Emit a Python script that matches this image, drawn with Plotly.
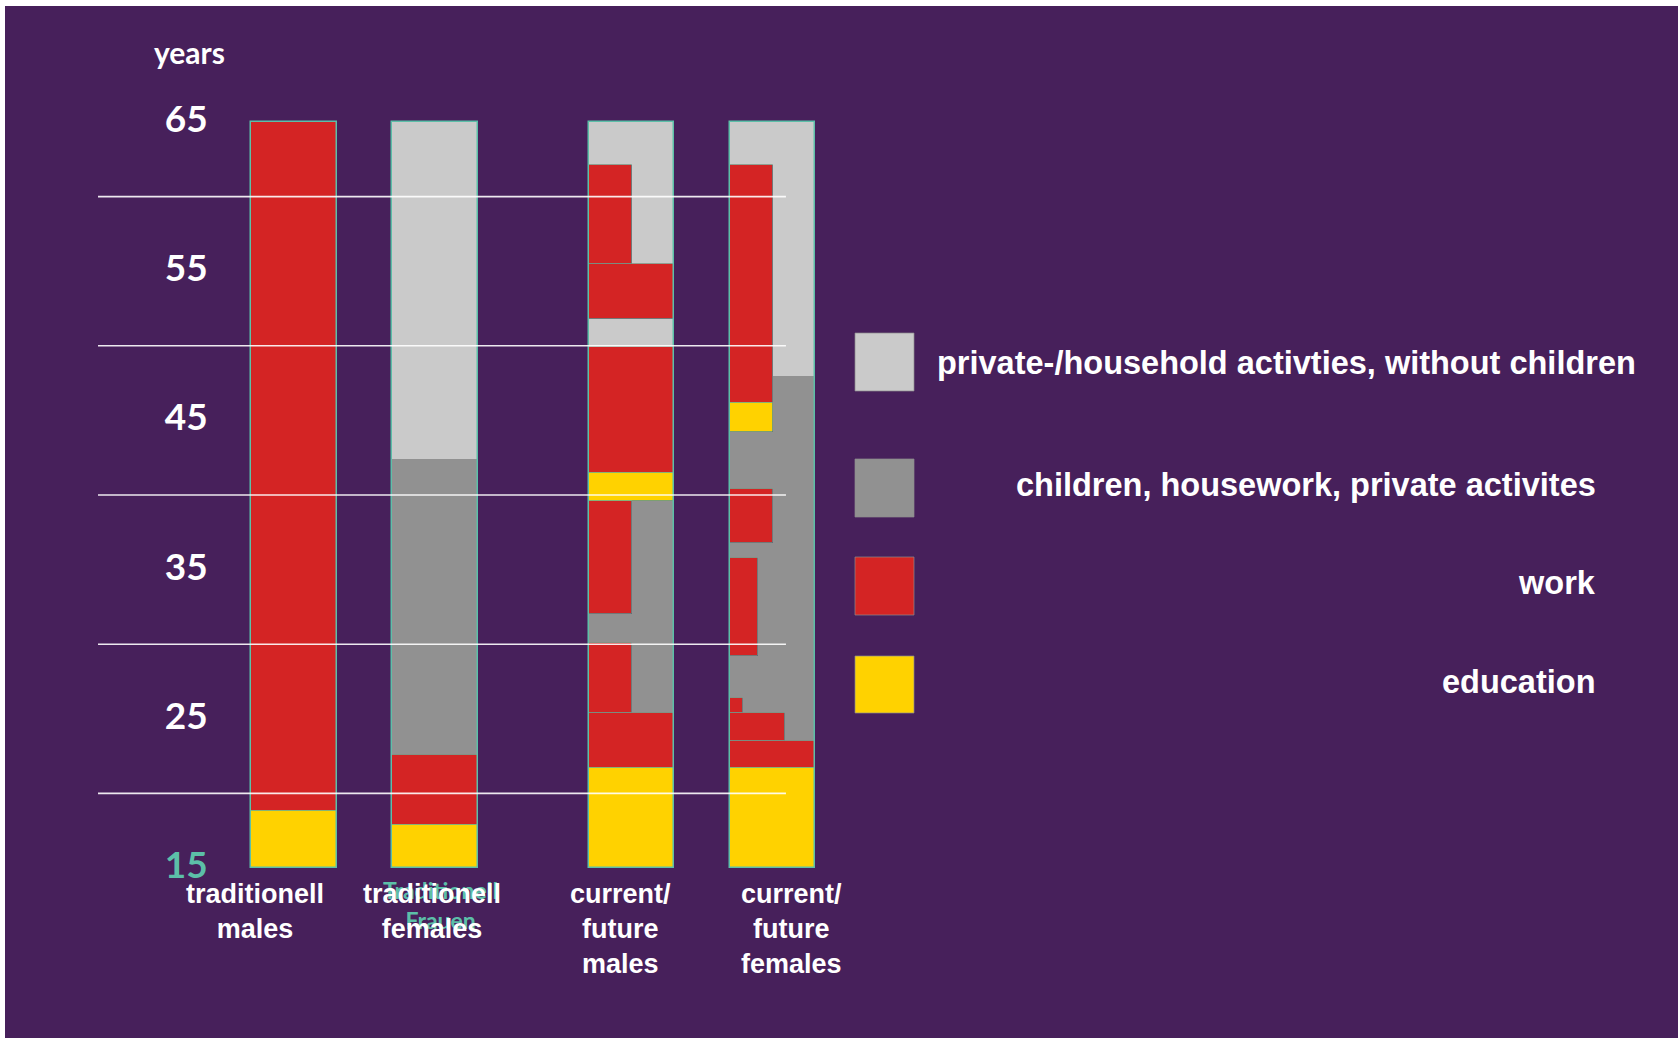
import plotly.graph_objects as go

# ---------------- data ----------------
categories = ["traditionell<br>males", "traditionell<br>females",
              "current/<br>future<br>males", "current/<br>future<br>females"]
activities = ["private-/household activties, without children",
              "children, housework, private activites", "work", "education"]

# segments: (category index, age from, age to, share-of-column from, share-of-column to)
education = [(0, 15, 18.85, 0, 1), (1, 15, 17.85, 0, 1), (2, 15, 21.7, 0, 1),
             (2, 39.6, 41.5, 0, 1), (3, 15, 21.7, 0, 1), (3, 44.2, 46.2, 0, 0.5)]
work = [(0, 18.85, 65, 0, 1), (1, 17.85, 22.6, 0, 1),
        (2, 21.7, 25.4, 0, 1), (2, 25.4, 30.1, 0, 0.5), (2, 32.0, 39.6, 0, 0.5),
        (2, 41.5, 49.9, 0, 1), (2, 51.8, 55.5, 0, 1), (2, 55.5, 62.1, 0, 0.5),
        (3, 21.7, 23.5, 0, 1), (3, 23.5, 25.4, 0, 0.65), (3, 25.4, 26.4, 0, 0.15),
        (3, 29.2, 35.8, 0, 0.33), (3, 36.8, 40.4, 0, 0.5), (3, 46.2, 62.1, 0, 0.5)]
children = [(1, 22.6, 42.4, 0, 1),
            (2, 25.4, 30.1, 0.5, 1), (2, 30.1, 32.0, 0, 1), (2, 32.0, 39.6, 0.5, 1),
            (3, 23.5, 25.4, 0.65, 1), (3, 25.4, 26.4, 0.15, 1), (3, 26.4, 29.2, 0, 1),
            (3, 29.2, 35.8, 0.33, 1), (3, 35.8, 36.8, 0, 1), (3, 36.8, 40.4, 0.5, 1),
            (3, 40.4, 44.2, 0, 1), (3, 44.2, 48.0, 0.5, 1)]
private = [(1, 42.4, 65, 0, 1), (2, 49.9, 51.8, 0, 1), (2, 55.5, 62.1, 0.5, 1),
           (2, 62.1, 65, 0, 1), (3, 48.0, 62.1, 0.5, 1), (3, 62.1, 65, 0, 1)]

age_start = 15
age_end = 65
tick_vals = [15, 25, 35, 45, 55, 65]
grid_vals = [20, 30, 40, 50, 60]
y_title = "years"
ghost_label = "Traditionell<br>Frauen"

# ---------------- styles / layout ----------------
BG = "#47205B"
TEAL = "#5CBFA8"
colors = {
    "private": "#CACACA",
    "children": "#919191",
    "work": "#D42424",
    "education": "#FFD200",
}

W, H = 1678, 1038
ML, MT = 5, 6                   # thin white frame at top / left
PX_X = 141.0                    # pixels per x unit
PX_Y = 14.92                    # pixels per year
X0_PX = 294.0                   # pixel of first category centre
Y65_PX = 122.0                  # pixel of age 65

cat_pos = [0.0, 1.0, 2.394, 3.394]
bar_w = 0.606

x_range = [(ML - X0_PX) / PX_X, (W - X0_PX) / PX_X]
y_range = [65 - (H - Y65_PX) / PX_Y, 65 + (Y65_PX - MT) / PX_Y]


def px_to_paper(px, py):
    return (px - ML) / (W - ML), 1 - (py - MT) / (H - MT)


fig = go.Figure()


def add_segments(segs, key, name):
    xs, ys, bases, widths = [], [], [], []
    for ci, a0, a1, s0, s1 in segs:
        left = cat_pos[ci] - bar_w / 2
        xs.append(left + (s0 + s1) / 2 * bar_w)
        widths.append((s1 - s0) * bar_w)
        bases.append(a0)
        ys.append(a1 - a0)
    line = dict(color="rgba(92,191,168,0.55)", width=1) if key in ("work", "education") \
        else dict(width=0)
    fig.add_trace(go.Bar(x=xs, y=ys, base=bases, width=widths, name=name,
                         marker=dict(color=colors[key], line=line),
                         showlegend=False, hoverinfo="skip"))


add_segments(children, "children", activities[1])
add_segments(private, "private", activities[0])
add_segments(work, "work", activities[2])
add_segments(education, "education", activities[3])

# outline of each full column
fig.add_trace(go.Bar(x=cat_pos, y=[age_end - age_start] * len(cat_pos),
                     base=[age_start] * len(cat_pos), width=[bar_w] * len(cat_pos),
                     marker=dict(color="rgba(0,0,0,0)", line=dict(color=TEAL, width=1.5)),
                     showlegend=False, hoverinfo="skip"))

# gridlines above the bars
for g in grid_vals:
    fig.add_shape(type="line", xref="x", yref="y",
                  x0=cat_pos[0] - 1.39, x1=cat_pos[3] + 0.095, y0=g, y1=g,
                  line=dict(color="rgba(255,255,255,0.9)", width=1.6), layer="above")

# tick labels
ticktext = []
for v in tick_vals:
    if v == 15:
        ticktext.append(f'<span style="color:{TEAL}"><b>{v}</b></span>')
    else:
        ticktext.append(f"<b>{v}</b>")

annotations = []
# y title
xp, yp = px_to_paper(189, 52)
annotations.append(dict(text=f"<b>{y_title}</b>", x=xp, y=yp, xref="paper", yref="paper",
                        xanchor="center", yanchor="middle", showarrow=False,
                        font=dict(family="Lato", size=30, color="white")))

# ghost label behind 2nd category
xp, yp = px_to_paper(440, 874)
annotations.append(dict(text=f"<b>{ghost_label}</b>", x=xp, y=yp, xref="paper", yref="paper",
                        xanchor="center", yanchor="top", showarrow=False,
                        font=dict(family="Lato", size=23, color=TEAL)))

# category labels
label_offsets = [-0.277, -0.021, -0.075, 0.131]
_, ytop = px_to_paper(0, 877)
for i, c in enumerate(categories):
    annotations.append(dict(text=f"<b>{c}</b>", x=cat_pos[i] + label_offsets[i], y=ytop,
                            xref="x", yref="paper", xanchor="center", yanchor="top",
                            showarrow=False,
                            font=dict(family="Liberation Sans, Arial", size=27, color="white")))

# custom legend
legend_keys = ["private", "children", "work", "education"]
swatch_y = [(333, 391), (459, 517), (557, 615), (656, 713)]
text_y = [363, 485, 583, 682]
for k, name, (sy0, sy1), ty, in zip(legend_keys, activities, swatch_y, text_y):
    x0, y0 = px_to_paper(855, sy1)
    x1, y1 = px_to_paper(914, sy0)
    fig.add_shape(type="rect", xref="paper", yref="paper", x0=x0, x1=x1, y0=y0, y1=y1,
                  fillcolor=colors[k], line=dict(color="rgba(140,140,140,0.7)", width=1))
    if k == "private":
        xp, yp = px_to_paper(935, ty)
        xanchor = "left"
    else:
        xp, yp = px_to_paper(1598, ty)
        xanchor = "right"
    annotations.append(dict(text=f"<b>{name}</b>", x=xp, y=yp, xref="paper", yref="paper",
                            xanchor=xanchor, yanchor="middle", showarrow=False,
                            font=dict(family="Liberation Sans, Arial", size=32.5, color="white")))

axis_pos = (218 - ML) / (W - ML)
fig.update_layout(
    width=W, height=H,
    margin=dict(l=ML, r=0, t=MT, b=0, pad=0),
    paper_bgcolor="white", plot_bgcolor=BG,
    barmode="overlay", bargap=0,
    xaxis=dict(range=x_range, showgrid=False, zeroline=False, showticklabels=False,
               showline=False, ticks="", fixedrange=True),
    yaxis=dict(range=y_range, anchor="free", position=axis_pos, side="left",
               tickvals=tick_vals, ticktext=ticktext, showgrid=False, zeroline=False,
               showline=False, ticks="outside", ticklen=3, tickcolor="rgba(0,0,0,0)",
               ticklabelshift=-3,
               tickfont=dict(family="Lato", size=37, color="white", weight=900),
               fixedrange=True),
    annotations=annotations,
    showlegend=False,
)

fig.write_html("out.html",
               config={"displayModeBar": False},
               post_script="document.body.style.margin='0px';"
                           "document.body.style.overflow='hidden';")
